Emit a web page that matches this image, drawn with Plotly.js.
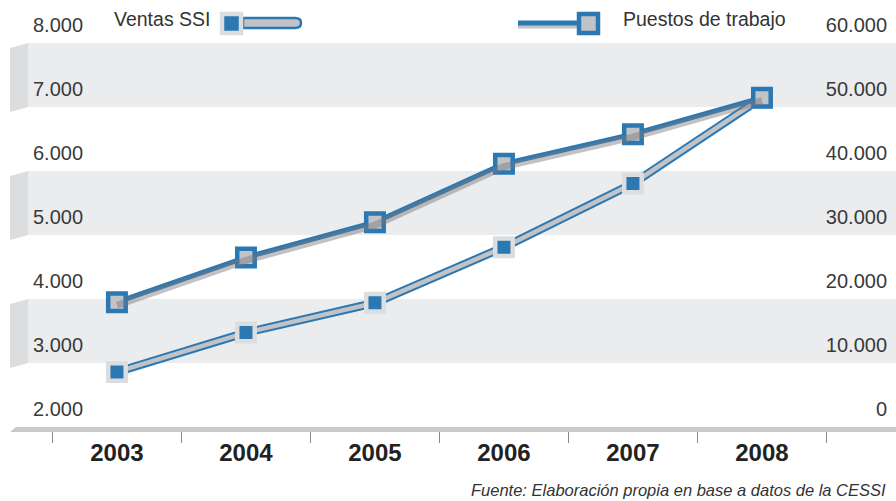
<!DOCTYPE html>
<html>
<head>
<meta charset="utf-8">
<script src="https://cdn.plot.ly/plotly-3.0.1.min.js"></script>
<style>html,body{margin:0;padding:0;background:#fff;}#chart{width:896px;height:501px;}</style>
</head>
<body>
<div id="chart"></div>
<script>
// ---- data ----
const years = ["2003", "2004", "2005", "2006", "2007", "2008"];
const ventasSSI = [2860, 3475, 3940, 4810, 5805, 7145];          // left axis
const puestosTrabajo = [19500, 26500, 32000, 41150, 45750, 51450]; // right axis
const leftTickVals = [2000, 3000, 4000, 5000, 6000, 7000, 8000];
const leftTickText = ["2.000", "3.000", "4.000", "5.000", "6.000", "7.000", "8.000"];
const rightTickVals = [0, 10000, 20000, 30000, 40000, 50000, 60000];
const rightTickText = ["0", "10.000", "20.000", "30.000", "40.000", "50.000", "60.000"];
const seriesNames = ["Ventas SSI", "Puestos de trabajo"];
const sourceText = "Fuente: Elaboración propia en base a datos de la CESSI";

// ---- style ----
const BLUE = "#2b78b3";
const GRAY = "#c2c3c7";
const LIGHT = "#dcdddf";
const BAND = "#ebecee";
const SANS = "Liberation Sans, Arial, sans-serif";

// pixel -> paper helpers (plot area: x 10..896, y 43..427)
const L = 10, R = 896, T = 43, B = 427;
const px = x => (x - L) / (R - L);
const py = y => (B - y) / (B - T);

const traces = [
  // Puestos shadow (shifted axis)
  {x: years, y: puestosTrabajo, yaxis: "y3", type: "scatter", mode: "lines",
   line: {color: "rgba(120,120,125,0.45)", width: 7}, hoverinfo: "skip", showlegend: false},
  // Puestos line + markers
  {x: years, y: puestosTrabajo, yaxis: "y2", type: "scatter", mode: "lines+markers", name: seriesNames[1],
   line: {color: BLUE, width: 5},
   marker: {symbol: "square", size: 17.5, color: GRAY, line: {color: BLUE, width: 4.5}}, showlegend: false},
  // Ventas outer (blue edges)
  {x: years, y: ventasSSI, yaxis: "y", type: "scatter", mode: "lines",
   line: {color: BLUE, width: 8.5}, hoverinfo: "skip", showlegend: false},
  // Ventas core + markers
  {x: years, y: ventasSSI, yaxis: "y", type: "scatter", mode: "lines+markers", name: seriesNames[0],
   line: {color: GRAY, width: 4.5},
   marker: {symbol: "square", size: 17.5, color: BLUE, line: {color: LIGHT, width: 4.5}}, showlegend: false}
];

const shapes = [];
// bands
[[3000, 4000], [5000, 6000], [7000, 8000]].forEach(([a, b]) => {
  shapes.push({type: "rect", layer: "below", xref: "paper", yref: "y", x0: px(28), x1: 1, y0: a, y1: b,
               fillcolor: BAND, line: {width: 0}});
  const slant = 5 / 384 * 6000;
  shapes.push({type: "path", layer: "below", xref: "paper", yref: "y",
               path: `M ${px(10)},${b - slant} L ${px(28)},${b} L ${px(28)},${a} L ${px(10)},${a - slant} Z`,
               fillcolor: LIGHT, line: {width: 0}});
});
// baseline
shapes.push({type: "path", layer: "above", xref: "paper", yref: "paper",
             path: `M ${px(10)},${py(432)} L ${px(16)},${py(427)} L 1,${py(427)} L 1,${py(432)} Z`,
             fillcolor: "#c9cacc", line: {width: 0}});
// legend: Ventas SSI
shapes.push({type: "path", xref: "paper", yref: "paper",
             path: `M ${px(243)},${py(18)} L ${px(295)},${py(18)} Q ${px(301)},${py(18)} ${px(301)},${py(23)} Q ${px(301)},${py(28)} ${px(295)},${py(28)} L ${px(243)},${py(28)} Z`,
             fillcolor: GRAY, line: {color: BLUE, width: 2.5}});
shapes.push({type: "rect", xref: "paper", yref: "paper", x0: px(222), x1: px(241), y0: py(14), y1: py(33),
             fillcolor: BLUE, line: {color: LIGHT, width: 4.5}});
// legend: Puestos
shapes.push({type: "line", xref: "paper", yref: "paper", x0: px(518), x1: px(580), y0: py(25.5), y1: py(25.5),
             line: {color: "rgba(120,120,125,0.45)", width: 6}});
shapes.push({type: "line", xref: "paper", yref: "paper", x0: px(518), x1: px(580), y0: py(23), y1: py(23),
             line: {color: BLUE, width: 5}});
shapes.push({type: "rect", xref: "paper", yref: "paper", x0: px(579), x1: px(598), y0: py(14), y1: py(33),
             fillcolor: GRAY, line: {color: BLUE, width: 4.5}});

const annotations = [
  {text: seriesNames[0], xref: "paper", yref: "paper", x: px(112), y: py(19), xanchor: "left", yanchor: "middle",
   showarrow: false, font: {family: SANS, size: 19.5, color: "#333"}},
  {text: seriesNames[1], xref: "paper", yref: "paper", x: px(621), y: py(19), xanchor: "left", yanchor: "middle",
   showarrow: false, font: {family: SANS, size: 19.5, color: "#333"}},
  {text: sourceText, xref: "paper", yref: "paper", x: px(888), y: py(490), xanchor: "right", yanchor: "middle",
   showarrow: false, font: {family: SANS, size: 16.5, color: "#333", style: "italic"}}
];

const layout = {
  width: 896, height: 501,
  margin: {l: L, r: 896 - R, t: T, b: 501 - B, pad: 0},
  paper_bgcolor: "#fff", plot_bgcolor: "rgba(0,0,0,0)",
  showlegend: false,
  xaxis: {type: "category", range: [-0.829, 6.039], tickson: "boundaries", ticks: "outside", ticklen: 15,
          tickwidth: 1.5, tickcolor: "#8a8a8a", showgrid: false, zeroline: false, showline: false,
          ticklabelstandoff: 9,
          tickfont: {family: SANS, size: 24, color: "#222", weight: "bold"}, fixedrange: true},
  yaxis: {range: [2000, 8000], tickvals: leftTickVals, ticktext: leftTickText, showgrid: false, zeroline: false,
          showline: false, ticks: "", ticklabelposition: "inside top", ticklabeloverflow: "allow",
          ticklabelstandoff: 20, ticklabelshift: -4,
          tickfont: {family: SANS, size: 20, color: "#3a3a3a"}, fixedrange: true},
  yaxis2: {range: [0, 60000], overlaying: "y", side: "right", tickvals: rightTickVals, ticktext: rightTickText,
           showgrid: false, zeroline: false, showline: false, ticks: "", ticklabelposition: "inside top",
           ticklabeloverflow: "allow", ticklabelstandoff: 6, ticklabelshift: -4,
           tickfont: {family: SANS, size: 20, color: "#3a3a3a"}, fixedrange: true},
  yaxis3: {range: [470, 60470], overlaying: "y", visible: false, fixedrange: true},
  shapes: shapes,
  annotations: annotations
};

Plotly.newPlot("chart", traces, layout, {displayModeBar: false, staticPlot: true});
</script>
</body>
</html>
